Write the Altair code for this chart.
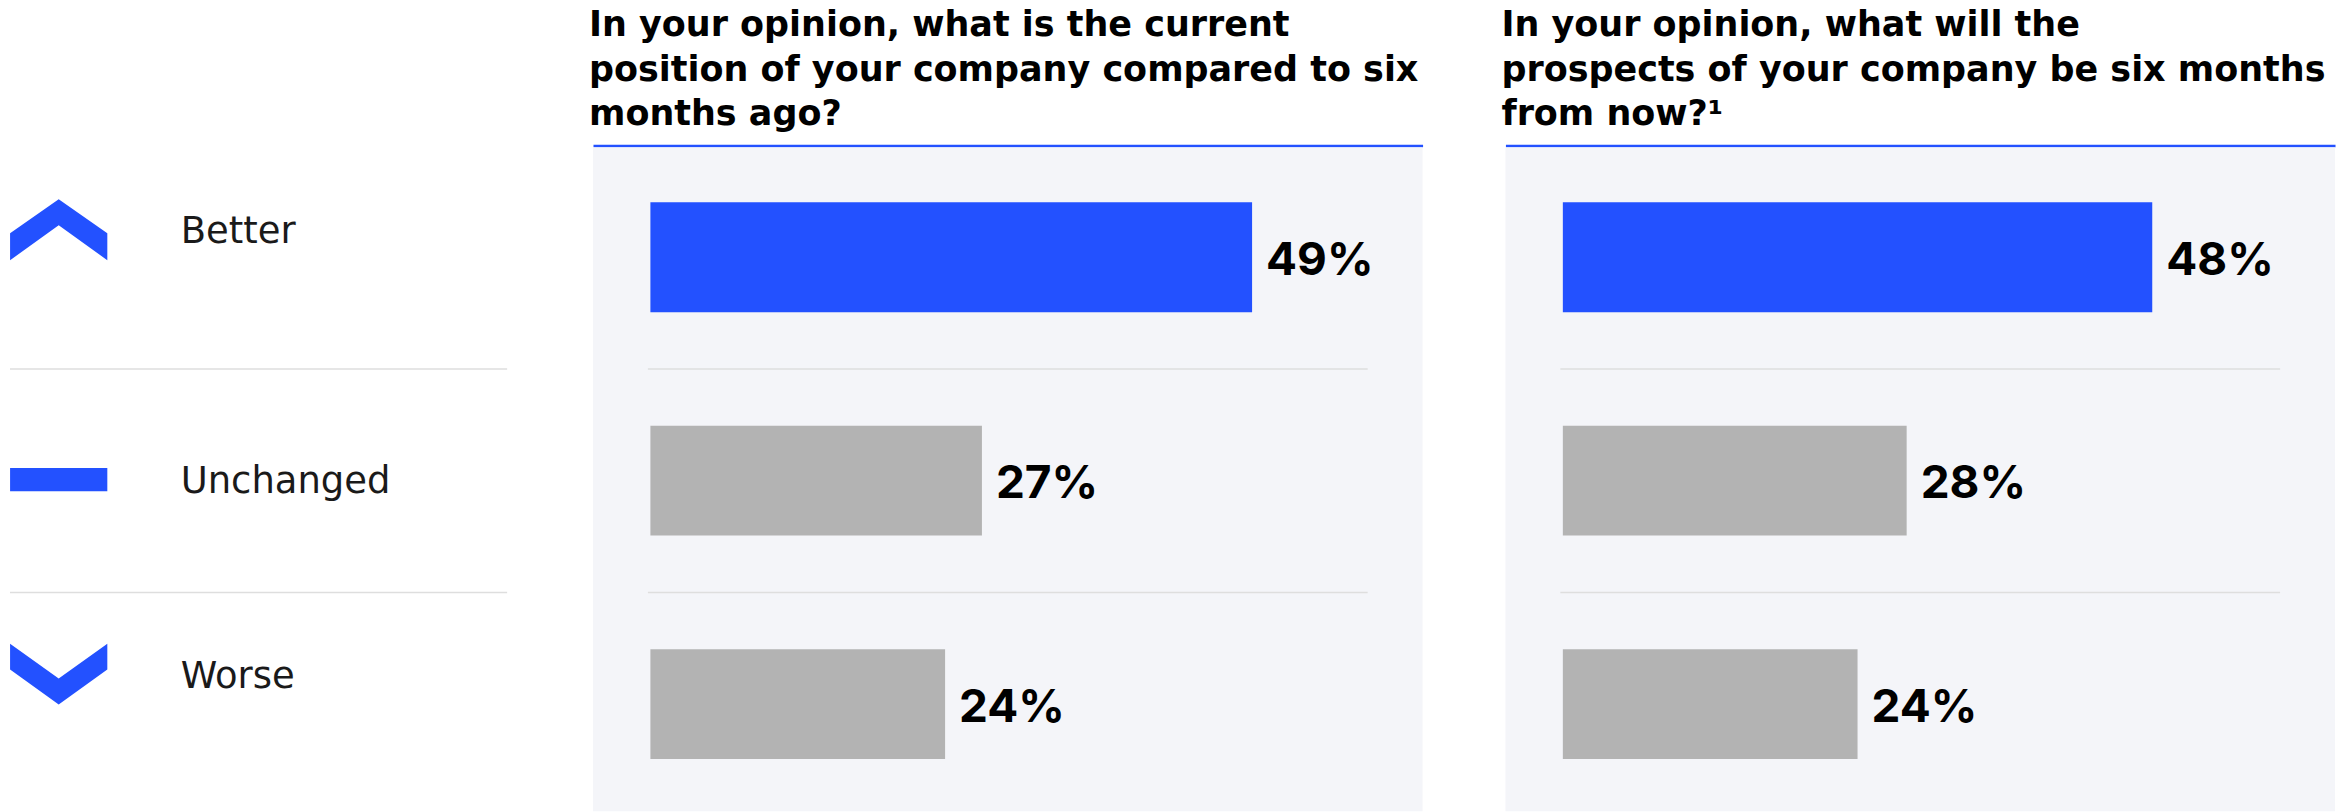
import altair as alt
import pandas as pd

# ---------------- data ----------------
categories = ["Better", "Unchanged", "Worse"]
current_values = [49, 27, 24]
prospect_values = [48, 28, 24]
current_labels = ["49%", "27%", "24%"]
prospect_labels = ["48%", "28%", "24%"]
title_current = [
    "In your opinion, what is the current",
    "position of your company compared to six",
    "months ago?",
]
title_prospect = [
    "In your opinion, what will the",
    "prospects of your company be six months",
    "from now?\u00b9",
]
title_blank = [" ", " ", " "]
separator_ranks = [1.5, 2.5]

# ---------------- styles ----------------
BLUE = "#2351ff"
GRAY = "#b3b3b3"
BG = "#f4f5f9"
SEP = "#dedede"
PANEL_W = 831
LEGEND_W = 510
PLOT_H = 665

rank = list(range(1, len(categories) + 1))

Y_DOMAIN = [0.5085, 3.4799]
X_DOMAIN = [-4.675, 62.885]

UP = "M0,-0.626L1,0.072L1,0.626L0,-0.092L-1,0.626L-1,0.072Z"
FLAT = "M-1,-0.24L1,-0.24L1,0.24L-1,0.24Z"
DOWN = "M-1,-0.624L0,0.088L1,-0.624L1,-0.097L0,0.622L-1,-0.097Z"
icon_shapes = [UP, FLAT, DOWN]
row_offsets = [-27.5, -1, -30]


def y_enc(field):
    return alt.Y(field, scale=alt.Scale(domain=Y_DOMAIN, reverse=True, nice=False,
                                        zero=False, padding=0),
                 axis=None)


def panel_title(lines, dx):
    return alt.TitleParams(lines, anchor="start", font="DejaVu Sans",
                           fontSize=35, fontWeight="bold", lineHeight=45,
                           color="#000000", dx=dx, offset=13)


def bar_panel(values, labels, title_lines):
    df = pd.DataFrame({"category": categories, "rank": rank,
                       "value": values, "label": labels})
    base = alt.Chart(df)
    bg = alt.Chart(pd.DataFrame({"panel": [0]})).mark_rect(color=BG).encode(
        x=alt.value(0), x2=alt.value("width"), y=alt.value(0), y2=alt.value("height"))
    bars = base.mark_bar(orient="horizontal", size=110).encode(
        x=alt.X("value:Q", scale=alt.Scale(domain=X_DOMAIN, nice=False, zero=False,
                                           padding=0),
                axis=alt.Axis(orient="top", domainColor=BLUE,
                              domainWidth=2.5, labels=False, ticks=False,
                              grid=False, title="", offset=2)),
        y=y_enc("rank:Q"),
        color=alt.Color("category:N",
                        scale=alt.Scale(domain=categories, range=[BLUE, GRAY, GRAY]),
                        legend=None),
    )
    text = base.mark_text(align="left", baseline="alphabetic", dx=14, dy=17.5,
                          font="Inter", fontWeight="bold", fontSize=46,
                          color="#000000").encode(
        x="value:Q",
        y="rank:Q",
        text="label:N",
    )
    seps = alt.Chart(pd.DataFrame({"pos": separator_ranks})).mark_rule(
        color=SEP, strokeWidth=1.5).encode(
        y="pos:Q",
        x=alt.value(55), x2=alt.value(776),
    )
    return alt.layer(bg, bars, seps, text).properties(
        width=PANEL_W, height=PLOT_H,
        title=panel_title(title_lines, -4),
    )


legend_df = pd.DataFrame({"category": categories, "rank": rank})
legend_layers = [
    alt.Chart(pd.DataFrame({"pos": separator_ranks})).mark_rule(
        color=SEP, strokeWidth=1.5).encode(
        y=y_enc("pos:Q"),
        x=alt.value(9), x2=alt.value(507),
    )
]
for cat, shape, off in zip(categories, icon_shapes, row_offsets):
    row = alt.Chart(legend_df).transform_filter(alt.datum.category == cat)
    legend_layers.append(
        row.mark_point(shape=shape, filled=True, size=9487, color=BLUE,
                       opacity=1, strokeWidth=0, yOffset=off).encode(
            x=alt.value(57.8),
            y="rank:Q",
        )
    )
    legend_layers.append(
        row.mark_text(align="left", baseline="alphabetic", dy=13.5, yOffset=off,
                      font="DejaVu Sans", fontWeight="normal", fontSize=37,
                      color="#1a1a1a").encode(
            x=alt.value(180),
            y="rank:Q",
            text="category:N",
        )
    )
legend = alt.layer(*legend_layers).properties(
    width=LEGEND_W, height=PLOT_H,
    title=panel_title(title_blank, 0),
)

chart = alt.hconcat(
    legend,
    bar_panel(current_values, current_labels, title_current),
    bar_panel(prospect_values, prospect_labels, title_prospect),
    spacing=77,
).properties(
    padding={"left": 0, "top": 6, "right": 12, "bottom": 0},
    background="white",
).configure_view(stroke="transparent")

chart.save("out.html", embed_options={"renderer": "svg", "actions": False})
